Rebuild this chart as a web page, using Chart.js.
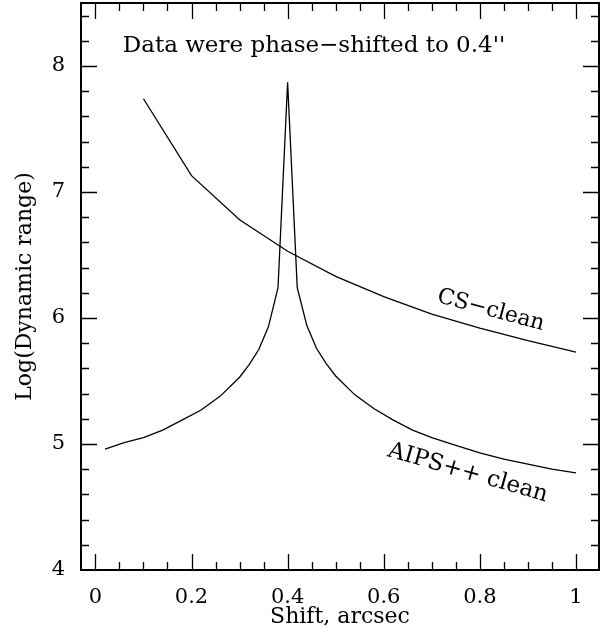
<!DOCTYPE html>
<html>
<head>
<meta charset="utf-8">
<script src="https://cdn.jsdelivr.net/npm/chart.js@4/dist/chart.umd.min.js"></script>
<style>
  html, body { margin: 0; padding: 0; background: #fff; }
</style>
</head>
<body>
<canvas id="chart" width="613" height="639"></canvas>
<script>
// CS-clean curve
const csShift = [0.1, 0.2, 0.3, 0.4, 0.5, 0.6, 0.7, 0.8, 0.9, 1.0];
const csRange = [7.74, 7.13, 6.78, 6.53, 6.33, 6.17, 6.03, 5.92, 5.82, 5.73];

// AIPS++ clean curve
const aipsShift = [0.02, 0.06, 0.10, 0.14, 0.18, 0.22, 0.26, 0.30, 0.32, 0.34, 0.36, 0.38, 0.40,
                   0.42, 0.44, 0.46, 0.48, 0.50, 0.54, 0.58, 0.62, 0.66, 0.70, 0.75, 0.80, 0.85, 0.90, 0.95, 1.00];
const aipsRange = [4.96, 5.01, 5.05, 5.11, 5.19, 5.27, 5.38, 5.53, 5.63, 5.75, 5.93, 6.24, 7.87,
                   6.24, 5.94, 5.76, 5.64, 5.54, 5.39, 5.28, 5.19, 5.11, 5.05, 4.99, 4.93, 4.88, 4.84, 4.80, 4.77];

// labelled ticks
const xMajorTicks = [0, 0.2, 0.4, 0.6, 0.8, 1];
const yMajorTicks = [4, 5, 6, 7, 8];

const FONT = "'DejaVu Serif', 'Liberation Serif', serif";

const isMajor = (v, list) => list.some(m => Math.abs(m - v) < 1e-6);

// draws the box, inward ticks on all four sides and the text notes
const framePlugin = {
    id: 'frame',
    afterDraw(chart) {
        const { ctx, chartArea: a, scales: { x, y } } = chart;
        ctx.save();
        ctx.strokeStyle = '#000';

        ctx.lineWidth = 1.3;
        ctx.beginPath();
        x.ticks.forEach(t => {
            const px = Math.round(x.getPixelForValue(t.value)) + 0.5;
            if (px <= a.left + 1 || px >= a.right - 1) return;
            const len = isMajor(t.value, xMajorTicks) ? 16 : 8;
            ctx.moveTo(px, a.bottom); ctx.lineTo(px, a.bottom - len);
            ctx.moveTo(px, a.top); ctx.lineTo(px, a.top + len);
        });
        y.ticks.forEach(t => {
            const py = Math.round(y.getPixelForValue(t.value)) + 0.5;
            if (py <= a.top + 1 || py >= a.bottom - 1) return;
            const len = isMajor(t.value, yMajorTicks) ? 16 : 8;
            ctx.moveTo(a.left, py); ctx.lineTo(a.left + len, py);
            ctx.moveTo(a.right, py); ctx.lineTo(a.right - len, py);
        });
        ctx.stroke();

        ctx.lineWidth = 2;
        ctx.strokeRect(a.left, a.top, a.right - a.left, a.bottom - a.top);

        // text notes, placed in data coordinates
        const note = (text, dx, dy, deg, size) => {
            ctx.save();
            ctx.translate(x.getPixelForValue(dx), y.getPixelForValue(dy));
            ctx.rotate(deg * Math.PI / 180);
            ctx.font = size + 'px ' + FONT;
            ctx.fillStyle = '#000';
            ctx.textAlign = 'center';
            ctx.textBaseline = 'middle';
            ctx.fillText(text, 0, 0);
            ctx.restore();
        };
        note('Data were phase\u2212shifted to 0.4\'\'', 0.455, 8.16, 0, 23);
        note('CS\u2212clean', 0.823, 6.06, 15, 22);
        note('AIPS++ clean', 0.775, 4.77, 16, 23);

        ctx.restore();
    }
};

const lineStyle = {
    borderColor: '#000',
    borderWidth: 1.3,
    pointRadius: 0,
    tension: 0,
    fill: false
};

new Chart(document.getElementById('chart'), {
    type: 'line',
    data: {
        datasets: [
            { label: 'CS-clean', data: csShift.map((s, i) => ({ x: s, y: csRange[i] })), ...lineStyle },
            { label: 'AIPS++ clean', data: aipsShift.map((s, i) => ({ x: s, y: aipsRange[i] })), ...lineStyle }
        ]
    },
    options: {
        responsive: false,
        animation: false,
        devicePixelRatio: 1,
        layout: { padding: { left: 0, top: 3, right: 14, bottom: 0 } },
        plugins: { legend: { display: false }, tooltip: { enabled: false } },
        scales: {
            x: {
                type: 'linear',
                min: -0.03,
                max: 1.048,
                grid: { display: false },
                border: { display: false },
                afterFit: s => { s.height = 69; s.paddingLeft = 0; s.paddingRight = 0; },
                ticks: {
                    stepSize: 0.05,
                    includeBounds: false,
                    autoSkip: false,
                    maxRotation: 0,
                    padding: 7,
                    color: '#000',
                    font: { family: FONT, size: 21 },
                    callback: v => isMajor(v, xMajorTicks) ? String(Math.round(v * 10) / 10) : ''
                },
                title: {
                    display: true,
                    text: 'Shift, arcsec',
                    color: '#000',
                    font: { family: FONT, size: 22 },
                    padding: { top: 0, bottom: 9 }
                }
            },
            y: {
                type: 'linear',
                min: 4,
                max: 8.5,
                grid: { display: false },
                border: { display: false },
                afterFit: s => { s.width = 81; s.paddingTop = 0; s.paddingBottom = 0; },
                ticks: {
                    stepSize: 0.2,
                    includeBounds: false,
                    autoSkip: false,
                    padding: 8,
                    color: '#000',
                    font: { family: FONT, size: 21 },
                    callback: v => isMajor(v, yMajorTicks) ? String(Math.round(v)) : ''
                },
                title: {
                    display: true,
                    text: 'Log(Dynamic range)',
                    color: '#000',
                    font: { family: FONT, size: 22 },
                    padding: { top: 12, bottom: 0 }
                }
            }
        }
    },
    plugins: [framePlugin]
});
</script>
</body>
</html>
